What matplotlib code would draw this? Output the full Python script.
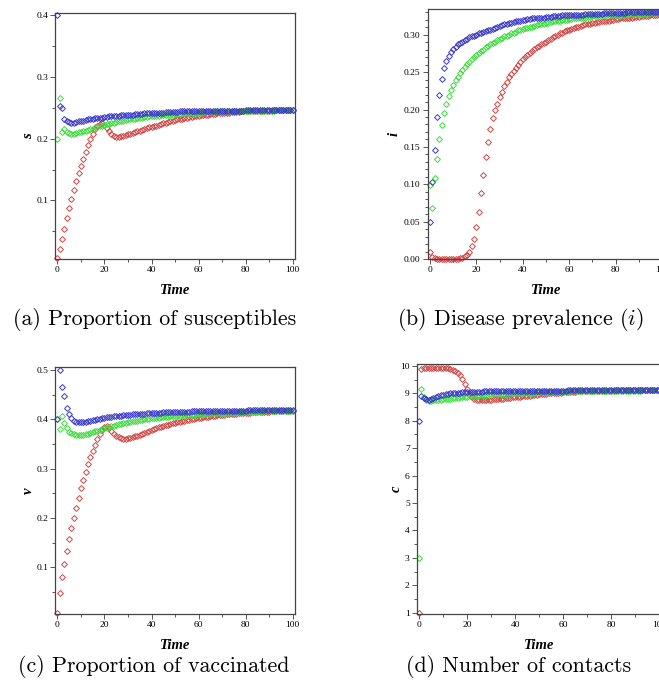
import matplotlib
matplotlib.use("Agg")
import matplotlib.pyplot as plt
from matplotlib.ticker import MultipleLocator
import numpy as np

plt.rcParams["mathtext.fontset"] = "cm"

# ─── DATA (t = 0..100) ───────────────────────────────────────────────────────

time = list(range(101))

s_red = [
    .007, .021, .038, .054, .071, .087, .102, .117, .132, .144,
    .156, .167, .179, .189, .199, .207, .215, .220, .224, .225,
    .222, .217, .212, .207, .204, .203, .203, .204, .205, .206,
    .207, .208, .209, .211, .212, .213, .214, .215, .217, .218,
    .219, .220, .221, .222, .224, .225, .226, .227, .228, .229,
    .230, .231, .232, .232, .233, .234, .235, .235, .236, .236,
    .237, .238, .238, .239, .239, .240, .240, .240, .241, .241,
    .241, .242, .242, .242, .243, .243, .243, .243, .244, .244,
    .244, .244, .244, .245, .245, .245, .245, .245, .245, .245,
    .245, .245, .246, .246, .246, .246, .246, .246, .246, .246, .246]
s_green = [
    .200, .265, .211, .216, .210, .209, .208, .208, .209, .210,
    .211, .212, .213, .214, .215, .216, .218, .219, .220, .221,
    .222, .223, .224, .225, .226, .227, .228, .228, .229, .230,
    .231, .231, .232, .232, .233, .234, .234, .235, .235, .236,
    .236, .237, .237, .237, .238, .238, .238, .239, .239, .239,
    .240, .240, .240, .241, .241, .241, .241, .242, .242, .242,
    .242, .242, .243, .243, .243, .243, .243, .243, .244, .244,
    .244, .244, .244, .244, .244, .244, .244, .244, .244, .244,
    .245, .245, .245, .245, .245, .245, .245, .245, .245, .245,
    .245, .245, .245, .246, .246, .246, .246, .246, .246, .246, .246]
s_blue = [
    .400, .252, .249, .231, .229, .227, .226, .226, .227, .228,
    .229, .229, .230, .231, .231, .232, .233, .233, .234, .234,
    .235, .235, .236, .236, .237, .237, .237, .238, .238, .238,
    .239, .239, .239, .240, .240, .240, .240, .241, .241, .241,
    .241, .242, .242, .242, .242, .242, .243, .243, .243, .243,
    .243, .243, .244, .244, .244, .244, .244, .244, .244, .244,
    .245, .245, .245, .245, .245, .245, .245, .245, .245, .245,
    .245, .245, .245, .245, .245, .245, .245, .245, .245, .245,
    .246, .246, .246, .246, .246, .246, .246, .246, .246, .246,
    .246, .246, .246, .246, .246, .246, .246, .246, .246, .246, .246]

i_red = [
    .010, .003, .001, .0005, .0005, .0005, .0005, .0005, .0005, .0005,
    .0005, .0005, .0007, .001, .002, .004, .006, .010, .017, .027,
    .043, .063, .088, .113, .137, .157, .174, .188, .199, .208,
    .217, .224, .231, .237, .243, .248, .252, .256, .260, .264,
    .267, .270, .273, .276, .278, .281, .283, .285, .287, .289,
    .291, .293, .295, .297, .299, .300, .302, .303, .305, .306,
    .307, .308, .309, .310, .311, .312, .313, .314, .314, .315,
    .316, .316, .317, .317, .318, .318, .319, .319, .320, .320,
    .321, .321, .322, .322, .322, .323, .323, .323, .324, .324,
    .324, .325, .325, .325, .325, .326, .326, .326, .326, .327, .327]
i_green = [
    .099, .068, .109, .134, .160, .179, .195, .208, .218, .226,
    .233, .239, .244, .249, .253, .257, .261, .264, .267, .270,
    .273, .275, .278, .280, .283, .285, .287, .289, .291, .293,
    .295, .296, .298, .299, .300, .302, .303, .304, .306, .307,
    .308, .309, .309, .310, .311, .312, .313, .314, .314, .315,
    .316, .316, .317, .318, .319, .319, .319, .320, .320, .320,
    .321, .321, .322, .322, .322, .323, .323, .323, .324, .324,
    .325, .325, .325, .325, .326, .326, .326, .326, .326, .327,
    .327, .327, .327, .327, .327, .328, .328, .328, .328, .328,
    .328, .328, .328, .328, .329, .329, .329, .329, .329, .329, .329]
i_blue = [
    .050, .103, .146, .190, .219, .241, .255, .265, .272, .277,
    .281, .284, .287, .289, .291, .293, .295, .297, .298, .299,
    .300, .302, .303, .304, .305, .306, .307, .308, .309, .310,
    .312, .313, .314, .315, .316, .316, .317, .318, .319, .319,
    .320, .320, .321, .321, .322, .322, .322, .323, .323, .323,
    .324, .324, .324, .325, .325, .325, .325, .326, .326, .326,
    .326, .327, .327, .327, .327, .327, .327, .328, .328, .328,
    .328, .328, .328, .328, .328, .329, .329, .329, .329, .329,
    .329, .329, .329, .329, .329, .330, .330, .330, .330, .330,
    .330, .330, .330, .330, .330, .330, .330, .330, .330, .330, .330]

v_red = [
    .0065, .048, .081, .107, .133, .157, .180, .200, .221, .240,
    .260, .277, .293, .309, .324, .336, .349, .360, .370, .378,
    .384, .386, .383, .377, .371, .366, .364, .362, .361, .361,
    .362, .363, .364, .366, .367, .369, .371, .373, .375, .377,
    .379, .380, .382, .384, .385, .387, .388, .389, .391, .392,
    .393, .394, .395, .396, .397, .398, .399, .400, .401, .402,
    .403, .403, .404, .405, .405, .406, .407, .407, .408, .408,
    .409, .409, .410, .410, .411, .411, .411, .412, .412, .412,
    .413, .413, .413, .414, .414, .414, .414, .415, .415, .415,
    .415, .416, .416, .416, .416, .416, .417, .417, .417, .417, .417]
v_green = [
    .400, .380, .407, .392, .382, .375, .372, .370, .369, .368,
    .368, .369, .370, .371, .373, .374, .376, .377, .379, .380,
    .382, .383, .385, .386, .387, .388, .390, .391, .392, .393,
    .394, .395, .396, .397, .397, .398, .399, .400, .400, .401,
    .402, .402, .403, .403, .404, .404, .405, .405, .406, .406,
    .407, .407, .407, .408, .408, .408, .409, .409, .409, .410,
    .410, .410, .411, .411, .411, .411, .412, .412, .412, .412,
    .413, .413, .413, .413, .413, .414, .414, .414, .414, .414,
    .414, .415, .415, .415, .415, .415, .415, .416, .416, .416,
    .416, .416, .416, .416, .417, .417, .417, .417, .417, .417, .417]
v_blue = [
    .400, .500, .466, .447, .424, .411, .402, .397, .395, .394,
    .394, .394, .395, .396, .397, .398, .399, .400, .401, .402,
    .403, .404, .404, .405, .406, .406, .407, .407, .408, .408,
    .409, .409, .410, .410, .410, .411, .411, .411, .412, .412,
    .412, .413, .413, .413, .413, .414, .414, .414, .414, .414,
    .415, .415, .415, .415, .415, .415, .415, .416, .416, .416,
    .416, .416, .416, .416, .416, .416, .417, .417, .417, .417,
    .417, .417, .417, .417, .417, .417, .417, .417, .417, .417,
    .417, .418, .418, .418, .418, .418, .418, .418, .418, .418,
    .418, .418, .418, .418, .418, .418, .418, .418, .418, .418, .418]

c_red = [
    1.00, 9.89, 9.91, 9.92, 9.93, 9.93, 9.93, 9.93, 9.93, 9.93,
    9.93, 9.93, 9.92, 9.90, 9.87, 9.83, 9.76, 9.66, 9.52, 9.35,
    9.16, 8.98, 8.86, 8.80, 8.77, 8.76, 8.75, 8.75, 8.76, 8.76,
    8.77, 8.78, 8.79, 8.80, 8.80, 8.81, 8.82, 8.83, 8.84, 8.85,
    8.86, 8.87, 8.88, 8.89, 8.90, 8.91, 8.92, 8.93, 8.94, 8.95,
    8.96, 8.97, 8.98, 8.99, 9.00, 9.01, 9.01, 9.02, 9.03, 9.03,
    9.04, 9.05, 9.05, 9.06, 9.06, 9.06, 9.07, 9.07, 9.07, 9.08,
    9.08, 9.08, 9.09, 9.09, 9.09, 9.09, 9.10, 9.10, 9.10, 9.10,
    9.10, 9.10, 9.11, 9.11, 9.11, 9.11, 9.11, 9.11, 9.11, 9.11,
    9.12, 9.12, 9.12, 9.12, 9.12, 9.12, 9.12, 9.12, 9.12, 9.12, 9.12]
c_green = [
    3.00, 9.15, 8.85, 8.75, 8.73, 8.73, 8.74, 8.75, 8.76, 8.77,
    8.78, 8.79, 8.80, 8.81, 8.82, 8.83, 8.84, 8.85, 8.86, 8.87,
    8.88, 8.89, 8.90, 8.91, 8.92, 8.93, 8.94, 8.95, 8.95, 8.96,
    8.97, 8.97, 8.98, 8.98, 8.99, 8.99, 9.00, 9.00, 9.00, 9.01,
    9.01, 9.01, 9.02, 9.02, 9.02, 9.03, 9.03, 9.03, 9.03, 9.04,
    9.04, 9.04, 9.04, 9.05, 9.05, 9.05, 9.05, 9.05, 9.06, 9.06,
    9.06, 9.06, 9.06, 9.07, 9.07, 9.07, 9.07, 9.07, 9.07, 9.08,
    9.08, 9.08, 9.08, 9.08, 9.08, 9.08, 9.09, 9.09, 9.09, 9.09,
    9.09, 9.09, 9.09, 9.09, 9.10, 9.10, 9.10, 9.10, 9.10, 9.10,
    9.10, 9.10, 9.10, 9.11, 9.11, 9.11, 9.11, 9.11, 9.11, 9.11, 9.11]
c_blue = [
    8.00, 8.92, 8.82, 8.78, 8.77, 8.80, 8.84, 8.87, 8.90, 8.93,
    8.95, 8.97, 8.99, 9.00, 9.01, 9.02, 9.03, 9.03, 9.04, 9.04,
    9.05, 9.05, 9.05, 9.06, 9.06, 9.06, 9.06, 9.07, 9.07, 9.07,
    9.07, 9.07, 9.07, 9.08, 9.08, 9.08, 9.08, 9.08, 9.08, 9.08,
    9.08, 9.09, 9.09, 9.09, 9.09, 9.09, 9.09, 9.09, 9.09, 9.09,
    9.09, 9.10, 9.10, 9.10, 9.10, 9.10, 9.10, 9.10, 9.10, 9.10,
    9.10, 9.10, 9.11, 9.11, 9.11, 9.11, 9.11, 9.11, 9.11, 9.11,
    9.11, 9.11, 9.11, 9.11, 9.11, 9.11, 9.11, 9.11, 9.11, 9.11,
    9.11, 9.12, 9.12, 9.12, 9.12, 9.12, 9.12, 9.12, 9.12, 9.12,
    9.12, 9.12, 9.12, 9.12, 9.12, 9.12, 9.12, 9.12, 9.12, 9.12, 9.12]

captions = ["(a) Proportion of susceptibles", r"(b) Disease prevalence ($i$)",
            "(c) Proportion of vaccinated", "(d) Number of contacts"]
ylabels = ["s", "i", "v", "c"]

# ─── STYLE ────────────────────────────────────────────────────────────────────

C_RED, C_GREEN, C_BLUE = "#d04848", "#3fdc3f", "#3a3ac8"
TICK_FONT = "Liberation Serif"


def panel(rect, red, green, blue, ylim, ymaj, ymin, ylab, ylab_x, xlab_y):
    ax = fig.add_axes(rect)
    for vals, col in ((red, C_RED), (green, C_GREEN), (blue, C_BLUE)):
        ax.plot(time, vals, "D", ms=3.0, mfc="none", mec=col, mew=0.7,
                clip_on=False)
    ax.set_xlim(-1, 101)
    ax.set_ylim(*ylim)
    ax.xaxis.set_major_locator(MultipleLocator(20))
    ax.xaxis.set_minor_locator(MultipleLocator(10))
    ax.yaxis.set_major_locator(MultipleLocator(ymaj))
    ax.yaxis.set_minor_locator(MultipleLocator(ymin))
    ax.tick_params(which="both", direction="out", color="#555555", width=0.7,
                   labelsize=6.8, pad=1.5)
    ax.tick_params(which="major", length=3.5)
    ax.tick_params(which="minor", length=2.2)
    for lab in ax.get_xticklabels() + ax.get_yticklabels():
        lab.set_family(TICK_FONT)
    for sp in ax.spines.values():
        sp.set_color("#444444")
        sp.set_linewidth(0.9)
    ax.set_xlabel("Time", family=TICK_FONT, weight="bold", style="italic",
                  fontsize=10.5)
    ax.xaxis.set_label_coords(0.5, xlab_y)
    ax.set_ylabel(ylab, family=TICK_FONT, weight="bold", style="italic",
                  fontsize=10.5)
    ax.yaxis.set_label_coords(ylab_x, 0.5)
    return ax


fig = plt.figure(figsize=(6.59, 6.88), dpi=100)

panel([0.0835, 0.6235, 0.3642, 0.3576], s_red, s_green, s_blue,
      (0.0052, 0.4032), 0.1, 0.05, ylabels[0], -0.083, -0.10)
panel([0.649, 0.6235, 0.359, 0.3629], i_red, i_green, i_blue,
      (0.0, 0.334), 0.05, 0.01, ylabels[1], -0.115, -0.10)
panel([0.0835, 0.1071, 0.3642, 0.359], v_red, v_green, v_blue,
      (0.0047, 0.5055), 0.1, 0.05, ylabels[2], -0.083, -0.10)
panel([0.6323, 0.1071, 0.3717, 0.3638], c_red, c_green, c_blue,
      (0.94, 10.07), 1, 0.5, ylabels[3], -0.058, -0.10)

cap_pos = [(155, 320), (520, 320), (154, 666), (519, 666)]
for (cx, cy), txt in zip(cap_pos, captions):
    fig.text(cx / 659, 1 - cy / 688, txt, ha="center", va="center",
             family="cmr10", fontsize=15.8)

fig.savefig("out.png", dpi=100)
